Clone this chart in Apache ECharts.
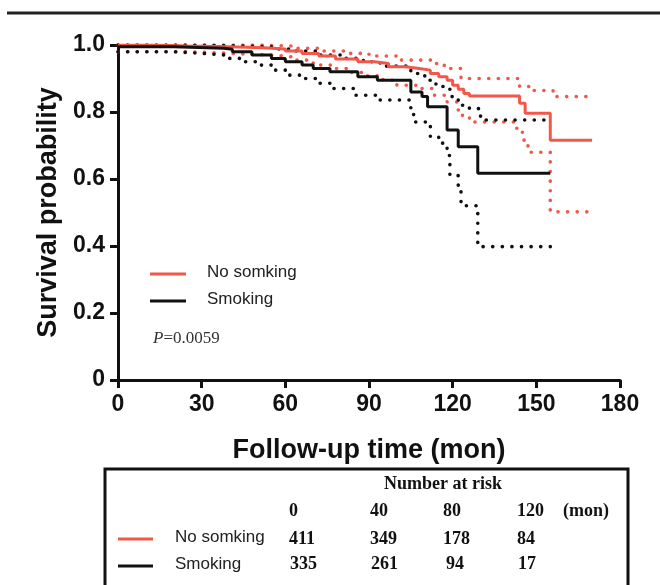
<!DOCTYPE html>
<html>
<head>
<meta charset="utf-8">
<script src="https://cdn.jsdelivr.net/npm/echarts@6/dist/echarts.min.js"></script>
<style>
  html, body { margin: 0; padding: 0; background: #fff; }
  #chart { width: 660px; height: 585px; }
</style>
</head>
<body>
<div id="chart"></div>
<script>
// Kaplan-Meier curves, [time (mon), survival]
const noSmokingSurv = [[0, 1.0], [12, 0.997], [25, 0.995], [40, 0.992], [52, 0.988], [60, 0.982], [66, 0.975], [72, 0.967], [78, 0.958], [86, 0.95], [92, 0.945], [97, 0.935], [103, 0.93], [108, 0.925], [112, 0.915], [115, 0.905], [118, 0.895], [120, 0.88], [122, 0.868], [124, 0.855], [126, 0.848], [144, 0.826], [146, 0.796], [155, 0.716], [170, 0.716]]
const noSmokingUpper = [[0, 1.0], [50, 0.997], [62, 0.99], [72, 0.982], [82, 0.975], [90, 0.967], [100, 0.955], [113, 0.945], [117, 0.93], [123, 0.9], [144, 0.876], [148, 0.864], [156, 0.846], [170, 0.846]]
const noSmokingLower = [[0, 0.98], [25, 0.975], [40, 0.97], [55, 0.965], [62, 0.955], [70, 0.94], [77, 0.93], [83, 0.918], [88, 0.908], [95, 0.895], [100, 0.88], [108, 0.87], [113, 0.85], [118, 0.83], [122, 0.79], [126, 0.77], [143, 0.746], [145, 0.716], [147, 0.68], [155, 0.502], [170, 0.502]]
const smokingSurv = [[0, 0.995], [20, 0.99], [38, 0.987], [41, 0.98], [48, 0.97], [55, 0.96], [60, 0.95], [66, 0.94], [70, 0.93], [76, 0.92], [86, 0.905], [93, 0.895], [105, 0.86], [109, 0.846], [111, 0.816], [118, 0.746], [122, 0.696], [129, 0.617], [155, 0.617]]
const smokingUpper = [[0, 1.0], [20, 0.998], [40, 0.995], [55, 0.988], [62, 0.982], [72, 0.97], [80, 0.96], [88, 0.95], [94, 0.937], [105, 0.915], [110, 0.895], [114, 0.876], [119, 0.846], [122, 0.82], [126, 0.81], [130, 0.776], [155, 0.776]]
const smokingLower = [[0, 0.98], [20, 0.975], [30, 0.97], [39, 0.96], [45, 0.95], [51, 0.94], [56, 0.925], [60, 0.91], [66, 0.9], [71, 0.886], [77, 0.87], [85, 0.85], [93, 0.836], [105, 0.8], [106, 0.77], [112, 0.726], [115, 0.707], [118, 0.67], [119, 0.61], [122, 0.577], [123, 0.52], [129, 0.398], [155, 0.398]]

// number at risk table
const riskTimes = ['0', '40', '80', '120']
const riskNoSmoking = ['411', '349', '178', '84']
const riskSmoking = ['335', '261', '94', '17']
const pValue = '0.0059'

const RED = '#f2584a'
const BLACK = '#111111'
const SANS = '"Liberation Sans", Arial, sans-serif'
const SERIF = '"Liberation Serif", "Times New Roman", serif'

let myChart = echarts.init(document.getElementById('chart'))

function stepLine (name, data, color, dotted) {
  return {
    name: name,
    type: 'line',
    step: 'end',
    data: data,
    showSymbol: false,
    silent: true,
    z: dotted ? 2 : 3,
    lineStyle: {
      color: color,
      width: dotted ? 3.6 : 3,
      type: dotted ? [0.1, 9.5] : 'solid',
      cap: dotted ? 'round' : 'butt',
    },
  }
}

// table column x positions (left aligned)
const colX = [289, 370, 443, 517]
let tableText = []
riskTimes.forEach((t, i) => {
  tableText.push({ type: 'text', left: colX[i], top: 502, style: { text: t, font: 'bold 18px ' + SERIF, fill: BLACK } })
  tableText.push({ type: 'text', left: colX[i], top: 530, style: { text: riskNoSmoking[i], font: 'bold 18px ' + SERIF, fill: BLACK } })
  tableText.push({ type: 'text', left: colX[i] + (i === 2 ? 3 : 1), top: 555, style: { text: riskSmoking[i], font: 'bold 18px ' + SERIF, fill: BLACK } })
})

myChart.setOption({
  animation: false,
  backgroundColor: '#ffffff',
  grid: { left: 118, right: 40, top: 45, bottom: 205, containLabel: false },
  xAxis: {
    type: 'value',
    min: 0,
    max: 180,
    interval: 30,
    name: 'Follow-up time (mon)',
    nameLocation: 'middle',
    nameGap: 57,
    nameTextStyle: { fontFamily: SANS, fontWeight: 'bold', fontSize: 27, color: BLACK },
    axisLine: { lineStyle: { color: BLACK, width: 3 } },
    axisTick: { length: 8, lineStyle: { color: BLACK, width: 3 } },
    axisLabel: { margin: 13, fontFamily: SANS, fontWeight: 'bold', fontSize: 23, color: BLACK },
    splitLine: { show: false },
  },
  yAxis: {
    type: 'value',
    min: 0,
    max: 1,
    interval: 0.2,
    name: 'Survival probability',
    nameLocation: 'middle',
    nameGap: 56,
    nameTextStyle: { fontFamily: SANS, fontWeight: 'bold', fontSize: 27, color: BLACK },
    axisLine: { show: true, lineStyle: { color: BLACK, width: 3 } },
    axisTick: { show: true, length: 8, lineStyle: { color: BLACK, width: 3 } },
    axisLabel: {
      margin: 13,
      fontFamily: SANS,
      fontWeight: 'bold',
      fontSize: 23,
      color: BLACK,
      formatter: v => (v === 0 ? '0' : v.toFixed(1)),
    },
    splitLine: { show: false },
  },
  series: [
    stepLine('No somking 95% CI upper', noSmokingUpper, RED, true),
    stepLine('No somking 95% CI lower', noSmokingLower, RED, true),
    stepLine('Smoking 95% CI upper', smokingUpper, BLACK, true),
    stepLine('Smoking 95% CI lower', smokingLower, BLACK, true),
    stepLine('No somking', noSmokingSurv, RED, false),
    stepLine('Smoking', smokingSurv, BLACK, false),
  ],
  graphic: [
    // top rule
    { type: 'line', shape: { x1: 7, y1: 13, x2: 660, y2: 13 }, style: { stroke: '#222', lineWidth: 3 } },
    // in-plot legend
    { type: 'line', shape: { x1: 150, y1: 274, x2: 186, y2: 274 }, style: { stroke: RED, lineWidth: 3 } },
    { type: 'text', left: 207, top: 264, style: { text: 'No somking', font: '17px ' + SANS, fill: '#222' } },
    { type: 'line', shape: { x1: 150, y1: 301, x2: 186, y2: 301 }, style: { stroke: BLACK, lineWidth: 3 } },
    { type: 'text', left: 207, top: 291, style: { text: 'Smoking', font: '17px ' + SANS, fill: '#222' } },
    {
      type: 'text', left: 153, top: 330,
      style: {
        text: '{i|P}{n|=' + pValue + '}',
        rich: {
          i: { font: 'italic 17px ' + SERIF, fill: '#333' },
          n: { font: '17px ' + SERIF, fill: '#333' },
        },
      },
    },
    // number at risk box
    { type: 'rect', shape: { x: 105, y: 469, width: 523, height: 130 }, style: { fill: 'none', stroke: BLACK, lineWidth: 3 } },
    { type: 'text', left: 384, top: 475, style: { text: 'Number at risk', font: 'bold 18px ' + SERIF, fill: BLACK } },
    { type: 'text', left: 563, top: 502, style: { text: '(mon)', font: 'bold 18px ' + SERIF, fill: BLACK } },
    { type: 'line', shape: { x1: 118, y1: 539, x2: 153, y2: 539 }, style: { stroke: RED, lineWidth: 3 } },
    { type: 'text', left: 175, top: 529, style: { text: 'No somking', font: '17px ' + SANS, fill: '#222' } },
    { type: 'line', shape: { x1: 118, y1: 566, x2: 153, y2: 566 }, style: { stroke: BLACK, lineWidth: 3 } },
    { type: 'text', left: 175, top: 556, style: { text: 'Smoking', font: '17px ' + SANS, fill: '#222' } },
  ].concat(tableText),
})
</script>
</body>
</html>
